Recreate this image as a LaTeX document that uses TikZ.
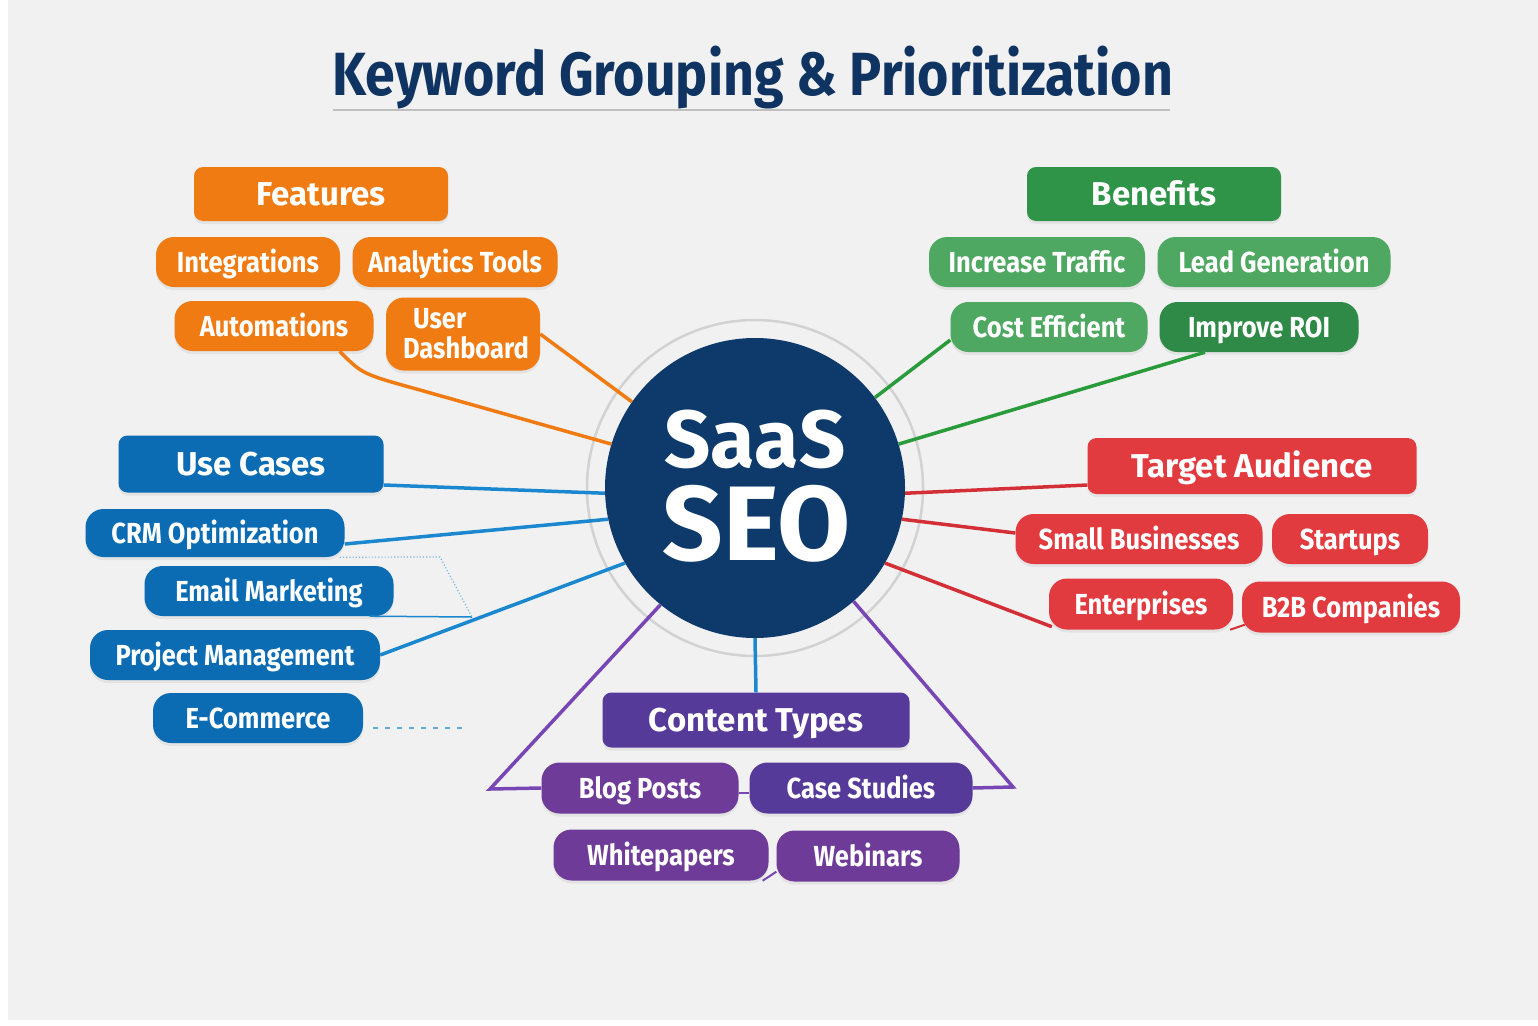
\documentclass[tikz,border=0pt]{standalone}
\usepackage{fontspec}
\setmainfont{Fira Sans}
\newfontfamily\condfont[FakeStretch=0.88]{Fira Sans}
\usepackage{tikz}
\usetikzlibrary{shadows, positioning}

\definecolor{bggray}{HTML}{F1F1F2}
\definecolor{navy}{HTML}{0E3A6B}
\definecolor{titleblue}{HTML}{0F3461}
\definecolor{featorange}{HTML}{F07B12}
\definecolor{benegreen}{HTML}{2F9447}
\definecolor{beneleaf}{HTML}{4FA862}
\definecolor{benedark}{HTML}{2E8A46}
\definecolor{beneline}{HTML}{2A9B3B}
\definecolor{usecblue}{HTML}{0B6CB4}
\definecolor{usecline}{HTML}{1B87CF}
\definecolor{audred}{HTML}{E13A3F}
\definecolor{audline}{HTML}{D32F36}
\definecolor{contpurple}{HTML}{563A9A}
\definecolor{contleaf}{HTML}{6E3C98}
\definecolor{contline}{HTML}{7846B4}

\begin{document}
\begin{tikzpicture}[x=1pt, y=-1pt,
    head/.style={rounded corners=9pt, minimum height=54pt, inner sep=0pt, text=white,
      text height=23pt, text depth=0pt, font=\bfseries\fontsize{33}{36}\selectfont,
      drop shadow={opacity=0.12, shadow xshift=0pt, shadow yshift=-3pt}},
    leaf/.style={rounded corners=18pt, minimum height=50pt, inner sep=0pt, text=white,
      text height=20pt, text depth=0pt, font=\condfont\bfseries\fontsize{29}{30}\selectfont,
      drop shadow={opacity=0.12, shadow xshift=0pt, shadow yshift=-3pt}},
    hubtext/.style={text=white, inner sep=0pt, anchor=base},
    link/.style={line width=3.5pt},
    faint/.style={line width=1.2pt, usecline!60, dotted},
  ]
  \useasboundingbox (0,0) rectangle (1538,1025);
  \fill[white] (0,0) rectangle (1538,1025);
  \fill[bggray] (8,0) rectangle (1538,1020);

  % title
  \node[text=titleblue, inner sep=0pt, anchor=base, font=\condfont\bfseries\fontsize{61}{63}\selectfont] (title) at (753,95) {Keyword Grouping \& Prioritization};
  \draw[line width=1.5pt, gray!50] (333,110) -- (1170,110);

  % hub
  \node[circle, fill=navy, minimum size=300pt, inner sep=0pt] (seo) at (755,488) {};
  \draw[line width=2.5pt, gray!35] (seo.center) circle[radius=168];
  \node[hubtext, font=\bfseries\fontsize{81}{85}\selectfont] (saas) at (755,467) {SaaS};
  \node[hubtext, font=\bfseries\fontsize{106}{110}\selectfont] (seotext) at (757,560) {SEO};

  % features
  \node[head, fill=featorange, minimum width=254pt] (feat) at (321,194) {Features};
  \node[leaf, fill=featorange, minimum width=184pt] (integ) at (248,262) {Integrations};
  \node[leaf, fill=featorange, minimum width=205pt] (analyt) at (455,262) {Analytics Tools};
  \node[leaf, fill=featorange, minimum width=199pt] (auto) at (274,326) {Automations};
  \node[leaf, fill=featorange, minimum width=154pt, minimum height=73pt, align=left,
    text height=, text depth=, font=\condfont\bfseries\fontsize{29}{30}\selectfont] (dash) at (463,334) {\hspace*{16pt}User\\\hspace*{6pt}Dashboard};

  % benefits
  \node[head, fill=benegreen, minimum width=254pt] (bene) at (1154,194) {Benefits};
  \node[leaf, fill=beneleaf, minimum width=216pt] (traffic) at (1037,262) {Increase Traffic};
  \node[leaf, fill=beneleaf, minimum width=233pt] (lead) at (1274,262) {Lead Generation};
  \node[leaf, fill=beneleaf, minimum width=197pt] (cost) at (1049,327) {Cost Efficient};
  \node[leaf, fill=benedark, minimum width=199pt] (roi) at (1259,327) {Improve ROI};

  % use cases
  \node[head, fill=usecblue, minimum width=265pt, minimum height=57pt] (usec) at (251,464) {Use Cases};
  \node[leaf, fill=usecblue, minimum width=259pt, minimum height=48pt] (crm) at (215,533) {CRM Optimization};
  \node[leaf, fill=usecblue, minimum width=249pt] (email) at (269,591) {Email Marketing};
  \node[leaf, fill=usecblue, minimum width=290pt] (proj) at (235,655) {Project Management};
  \node[leaf, fill=usecblue, minimum width=210pt] (ecom) at (258,718) {E-Commerce};

  % target audience
  \node[head, fill=audred, minimum width=329pt, minimum height=56pt] (aud) at (1252,466) {Target Audience};
  \node[leaf, fill=audred, minimum width=247pt] (small) at (1139,539) {Small Businesses};
  \node[leaf, fill=audred, minimum width=156pt] (start) at (1350,539) {Startups};
  \node[leaf, fill=audred, minimum width=184pt, minimum height=51pt] (enter) at (1141,604) {Enterprises};
  \node[leaf, fill=audred, minimum width=218pt, minimum height=51pt] (b2b) at (1351,607) {B2B Companies};

  % content types
  \node[head, fill=contpurple, minimum width=307pt, minimum height=55pt] (cont) at (756,720) {Content Types};
  \node[leaf, fill=contleaf, minimum width=197pt, minimum height=51pt] (blog) at (640,788) {Blog Posts};
  \node[leaf, fill=contpurple, minimum width=223pt, minimum height=51pt] (case) at (861,788) {Case Studies};
  \node[leaf, fill=contleaf, minimum width=215pt, minimum height=51pt] (white) at (661,855) {Whitepapers};
  \node[leaf, fill=contleaf, minimum width=183pt, minimum height=51pt] (webin) at (868,856) {Webinars};

  % connectors
  \coordinate (emj) at (472,617);
  \coordinate (crmd) at (440,557);
  \coordinate (ecomd) at (466,728);
  \coordinate (pleft) at (490,789);
  \coordinate (pright) at (1013,787);

  \draw[link, featorange] (dash.east) -- (seo.145);
  \draw[link, featorange] ([xshift=-34pt]auto.south east) .. controls (362,374) .. (420,390) -- (seo.163);
  \draw[link, beneline] ([yshift=-13pt]cost.west) -- (seo.37);
  \draw[link, beneline] ([xshift=-54pt]roi.south) -- (seo.17);
  \draw[link, usecline] ([yshift=-21pt]usec.east) -- (seo.182);
  \draw[link, usecline] ([yshift=-11pt]crm.east) -- (seo.192);
  \draw[link, usecline] (proj.east) -- (seo.210);
  \draw[line width=1.5pt, usecline] ([xshift=-24pt]email.south east) -- (emj);
  \draw[faint] ([xshift=-5pt]crm.south east) -- (crmd) -- (emj);
  \draw[line width=1.3pt, usecline!70, dash pattern=on 5pt off 7pt] ([xshift=10pt,yshift=-10pt]ecom.east) -- (ecomd);
  \draw[link, audline] ([yshift=-19pt]aud.west) -- (seo.-2);
  \draw[link, audline] ([yshift=6pt]small.west) -- (seo.-12);
  \draw[link, audline] ([xshift=3pt,yshift=3pt]enter.south west) -- (seo.-30);
  \draw[line width=2pt, audline] ([xshift=-3pt]enter.south east) -- ([xshift=3pt,yshift=8pt]b2b.south west);
  \draw[link, usecline] (seo.270) -- (cont.north);
  \draw[link, contline] (seo.231) -- (pleft) -- (blog.west);
  \draw[link, contline] (seo.311) -- (pright) -- (case.east);
  \draw[line width=2pt, contline] ([yshift=-5pt]blog.east) -- ([yshift=-5pt]case.west);
  \draw[line width=2pt, contline] ([xshift=-6pt]white.south east) -- ([yshift=10pt]webin.south west);
\end{tikzpicture}
\end{document}
